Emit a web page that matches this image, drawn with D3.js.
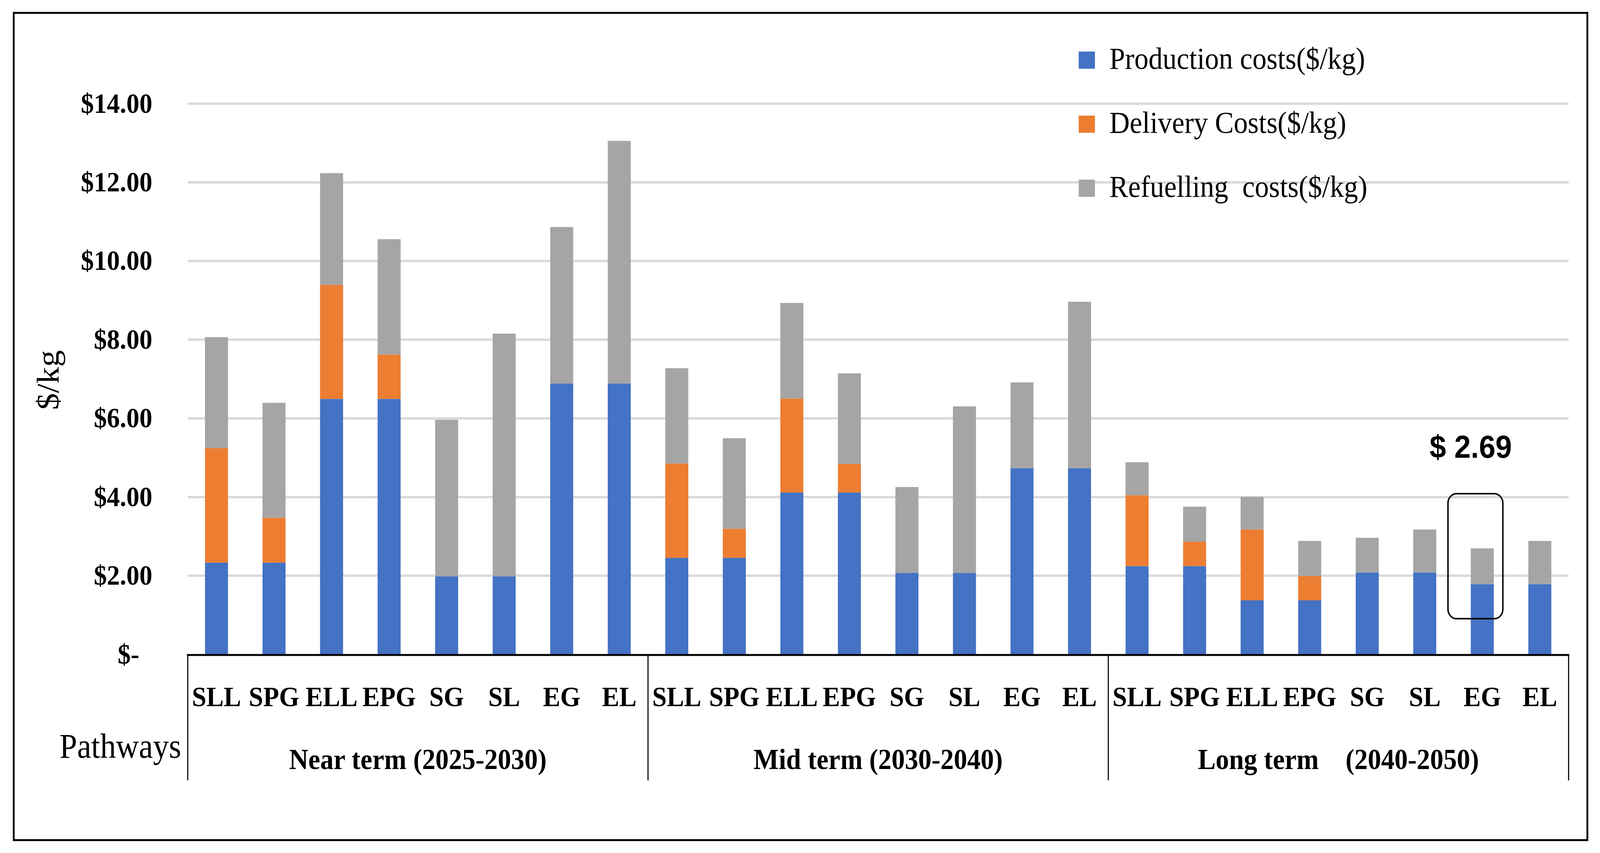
<!DOCTYPE html>
<html>
<head>
<meta charset="utf-8">
<script src="https://cdn.jsdelivr.net/npm/d3@7"></script>
<style>
  html, body { margin: 0; padding: 0; background: #fff; overflow: hidden; }
  svg { display: block; width: 100vw; height: 100vh; }
</style>
</head>
<body>
<div id="chart"></div>
<script>
// pathways repeat inside each term group
const pathways = ["SLL", "SPG", "ELL", "EPG", "SG", "SL", "EG", "EL"];
const terms = ["Near term (2025-2030)", "Mid term (2030-2040)", "Long term    (2040-2050)"];

const seriesNames = ["Production costs($/kg)", "Delivery Costs($/kg)", "Refuelling  costs($/kg)"];
const seriesColors = ["#4472C4", "#ED7D31", "#A5A5A5"];

// values per bar, near term then mid term then long term
const production = [2.33, 2.33, 6.49, 6.49, 1.98, 1.98, 6.88, 6.88,
                    2.45, 2.45, 4.11, 4.11, 2.07, 2.07, 4.73, 4.73,
                    2.24, 2.24, 1.37, 1.37, 2.08, 2.08, 1.78, 1.78];
const delivery   = [2.91, 1.14, 2.90, 1.13, 0, 0, 0, 0,
                    2.40, 0.74, 2.39, 0.73, 0, 0, 0, 0,
                    1.80, 0.62, 1.80, 0.62, 0, 0, 0, 0];
const refuelling = [2.82, 2.92, 2.84, 2.93, 3.98, 6.17, 3.98, 6.17,
                    2.42, 2.30, 2.43, 2.30, 2.18, 4.23, 2.18, 4.23,
                    0.84, 0.89, 0.83, 0.89, 0.88, 1.09, 0.91, 1.10];

const yTicks = [0, 2, 4, 6, 8, 10, 12, 14];
const highlightIndex = 22; // long term EG

const W = 4432, H = 2184;
const plot = {left: 520, right: 4345, top: 265, bottom: 1675};

// viewBox so the drawing always fills the window whatever its css size
const svg = d3.select("#chart").append("svg")
  .attr("viewBox", `0 0 ${W} ${H}`)
  .attr("preserveAspectRatio", "none");

// outer frame
svg.append("rect")
  .attr("x", 38).attr("y", 33)
  .attr("width", 4397 - 38).attr("height", 2151 - 33)
  .attr("fill", "none").attr("stroke", "#000").attr("stroke-width", 5);

const keys = production.map((d, i) => String(i));
const x = d3.scaleBand().domain(keys)
  .range([plot.left, plot.right])
  .paddingInner(0.6).paddingOuter(0.3);
const y = d3.scaleLinear().domain([0, 14]).range([plot.bottom, plot.top]);

// gridlines
const grid = svg.append("g")
  .attr("transform", `translate(${plot.left},0)`)
  .call(d3.axisLeft(y).tickValues(yTicks.slice(1)).tickSize(-(plot.right - plot.left)).tickFormat(""));
grid.select(".domain").remove();
grid.selectAll(".tick line").attr("stroke", "#d9d9d9").attr("stroke-width", 6);

// y tick labels
const yAxis = svg.append("g")
  .attr("transform", "translate(422,0)")
  .call(d3.axisLeft(y).tickValues(yTicks).tickSize(0).tickPadding(0)
    .tickFormat(d => d === 0 ? "$-\u2002" : "$" + d3.format(".2f")(d)));
yAxis.select(".domain").remove();
yAxis.selectAll("text")
  .attr("font-family", "'Liberation Serif', serif")
  .attr("font-weight", "bold")
  .attr("font-size", 72)
  .attr("fill", "#000");

// stacked bars
const rows = keys.map((k, i) => ({key: k, p: production[i], d: delivery[i], r: refuelling[i]}));
const stack = d3.stack().keys(["p", "d", "r"])(rows);

svg.append("g").selectAll("g")
  .data(stack)
  .join("g")
    .attr("fill", (s, i) => seriesColors[i])
  .selectAll("rect")
  .data(s => s)
  .join("rect")
    .attr("x", d => x(d.data.key))
    .attr("width", x.bandwidth())
    .attr("y", d => y(d[1]))
    .attr("height", d => y(d[0]) - y(d[1]));

// category axis
const xAxis = svg.append("g")
  .attr("transform", `translate(0,${plot.bottom})`)
  .call(d3.axisBottom(x).tickSize(0).tickPadding(0)
    .tickFormat(k => pathways[+k % pathways.length]));
xAxis.select(".domain").remove();
xAxis.selectAll("text")
  .attr("dy", null)
  .attr("y", 133)
  .attr("font-family", "'Liberation Serif', serif")
  .attr("font-weight", "bold")
  .attr("font-size", 72)
  .attr("fill", "#000");

// baseline
svg.append("line")
  .attr("x1", plot.left - 2).attr("x2", plot.right + 2)
  .attr("y1", y(0) + 2).attr("y2", y(0) + 2)
  .attr("stroke", "#000").attr("stroke-width", 5);

// group separators and term labels
const groupW = (plot.right - plot.left) / terms.length;
const sepX = d3.range(terms.length + 1).map(i => plot.left + i * groupW);
svg.append("g").selectAll("line")
  .data(sepX)
  .join("line")
    .attr("x1", d => d).attr("x2", d => d)
    .attr("y1", y(0)).attr("y2", 1998)
    .attr("stroke", "#000").attr("stroke-width", 3);

svg.append("g").selectAll("text")
  .data(terms)
  .join("text")
    .attr("x", (d, i) => plot.left + (i + 0.5) * groupW)
    .attr("y", 1969)
    .attr("text-anchor", "middle")
    .attr("font-family", "'Liberation Serif', serif")
    .attr("font-weight", "bold")
    .attr("font-size", 74)
    .style("white-space", "pre")
    .text(d => d);

svg.append("text")
  .attr("x", 502).attr("y", 1940)
  .attr("text-anchor", "end")
  .attr("font-family", "'Liberation Serif', serif")
  .attr("font-size", 88)
  .text("Pathways");

// y axis title
svg.append("text")
  .attr("transform", "translate(162,973) rotate(-90)")
  .attr("text-anchor", "middle")
  .attr("font-family", "'Liberation Serif', serif")
  .attr("font-size", 86)
  .text("$/kg");

// legend
const legend = svg.append("g").selectAll("g")
  .data(seriesNames)
  .join("g")
    .attr("transform", (d, i) => `translate(2988,${132 + i * 164})`);
legend.append("rect")
  .attr("width", 45).attr("height", 44)
  .attr("fill", (d, i) => seriesColors[i]);
legend.append("text")
  .attr("x", 85).attr("y", 44)
  .attr("font-family", "'Liberation Serif', serif")
  .attr("font-size", 78)
  .style("white-space", "pre")
  .text(d => d);

// highlight of the cheapest pathway
const hx = x(keys[highlightIndex]) + x.bandwidth() / 2;
const hTotal = production[highlightIndex] + delivery[highlightIndex] + refuelling[highlightIndex];
svg.append("rect")
  .attr("x", hx - 95).attr("y", y(hTotal) - 140)
  .attr("width", 152).attr("height", 320)
  .attr("rx", 24).attr("ry", 24)
  .attr("fill", "none").attr("stroke", "#000").attr("stroke-width", 4);
svg.append("text")
  .attr("x", hx - 32).attr("y", y(hTotal) - 232)
  .attr("text-anchor", "middle")
  .attr("font-family", "'Liberation Sans', Arial, sans-serif")
  .attr("font-weight", "bold")
  .attr("font-size", 82)
  .text("$ " + hTotal.toFixed(2));
</script>
</body>
</html>
